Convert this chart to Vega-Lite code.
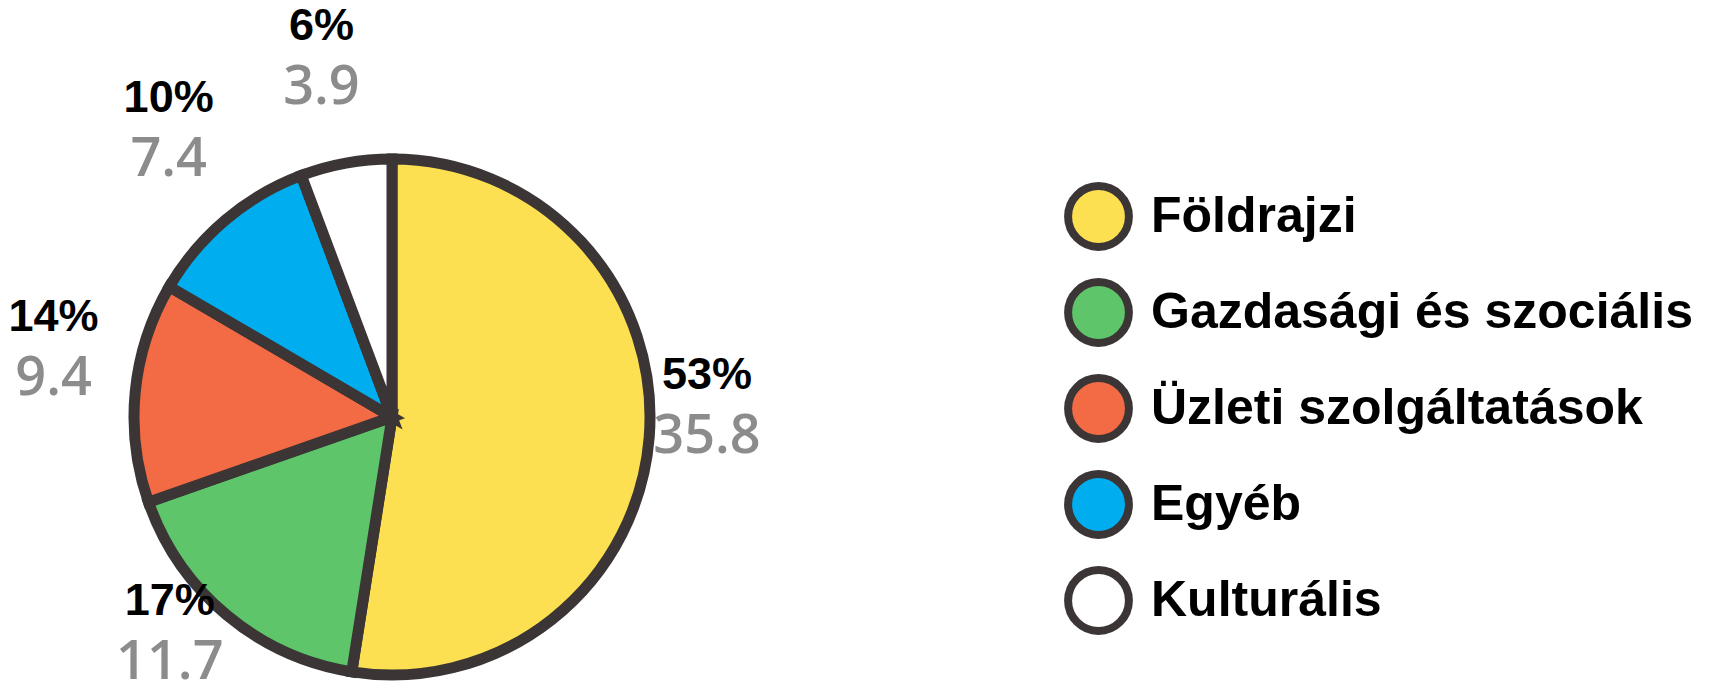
{
  "$schema": "https://vega.github.io/schema/vega-lite/v6.json",
  "width": 784,
  "height": 530,
  "autosize": {"type": "none"},
  "padding": {"left": 0, "top": 152, "right": 952, "bottom": 0},
  "background": "white",
  "view": {"stroke": null},
  "data": {"values": [
    {"category": "Földrajzi", "value": 35.8, "pct": "53%", "rank": 1},
    {"category": "Gazdasági és szociális", "value": 11.7, "pct": "17%", "rank": 2},
    {"category": "Üzleti szolgáltatások", "value": 9.4, "pct": "14%", "rank": 3},
    {"category": "Egyéb", "value": 7.4, "pct": "10%", "rank": 4},
    {"category": "Kulturális", "value": 3.9, "pct": "6%", "rank": 5}
  ]},
  "encoding": {
    "theta": {"field": "value", "type": "quantitative", "stack": true},
    "order": {"field": "rank", "type": "quantitative"}
  },
  "layer": [
    {
      "mark": {"type": "arc", "radius": 258, "stroke": "#3b3536", "strokeWidth": 11, "strokeJoin": "miter"},
      "encoding": {
        "color": {
          "field": "category", "type": "nominal",
          "scale": {
            "domain": ["Földrajzi", "Gazdasági és szociális", "Üzleti szolgáltatások", "Egyéb", "Kulturális"],
            "range": ["#fde052", "#5ec56b", "#f26b45", "#00aeef", "#ffffff"]
          },
          "legend": {
            "title": null, "orient": "none", "legendX": 1064, "legendY": 30,
            "symbolType": "circle", "symbolSize": 3700, "symbolStrokeWidth": 8,
            "symbolStrokeColor": "#3b3536", "symbolOpacity": 1,
            "labelFont": "Liberation Sans", "labelFontSize": 50,
            "labelFontWeight": "bold", "labelColor": "#000000",
            "rowPadding": 3, "labelOffset": 18, "padding": 0, "labelLimit": 0
          }
        }
      }
    },
    {
      "mark": {"type": "text", "radius": 328, "dy": -68, "dx": -12, "font": "Liberation Sans", "fontSize": 45, "fontWeight": "bold", "color": "#000000", "align": "center", "baseline": "middle"},
      "encoding": {"text": {"field": "pct", "type": "nominal"}}
    },
    {
      "mark": {"type": "text", "radius": 328, "dy": -6, "dx": -12, "font": "Open Sans", "fontSize": 54, "fontWeight": 600, "color": "#8c8c8c", "align": "center", "baseline": "middle"},
      "encoding": {"text": {"field": "value", "type": "quantitative", "format": ".1f"}}
    }
  ]
}
